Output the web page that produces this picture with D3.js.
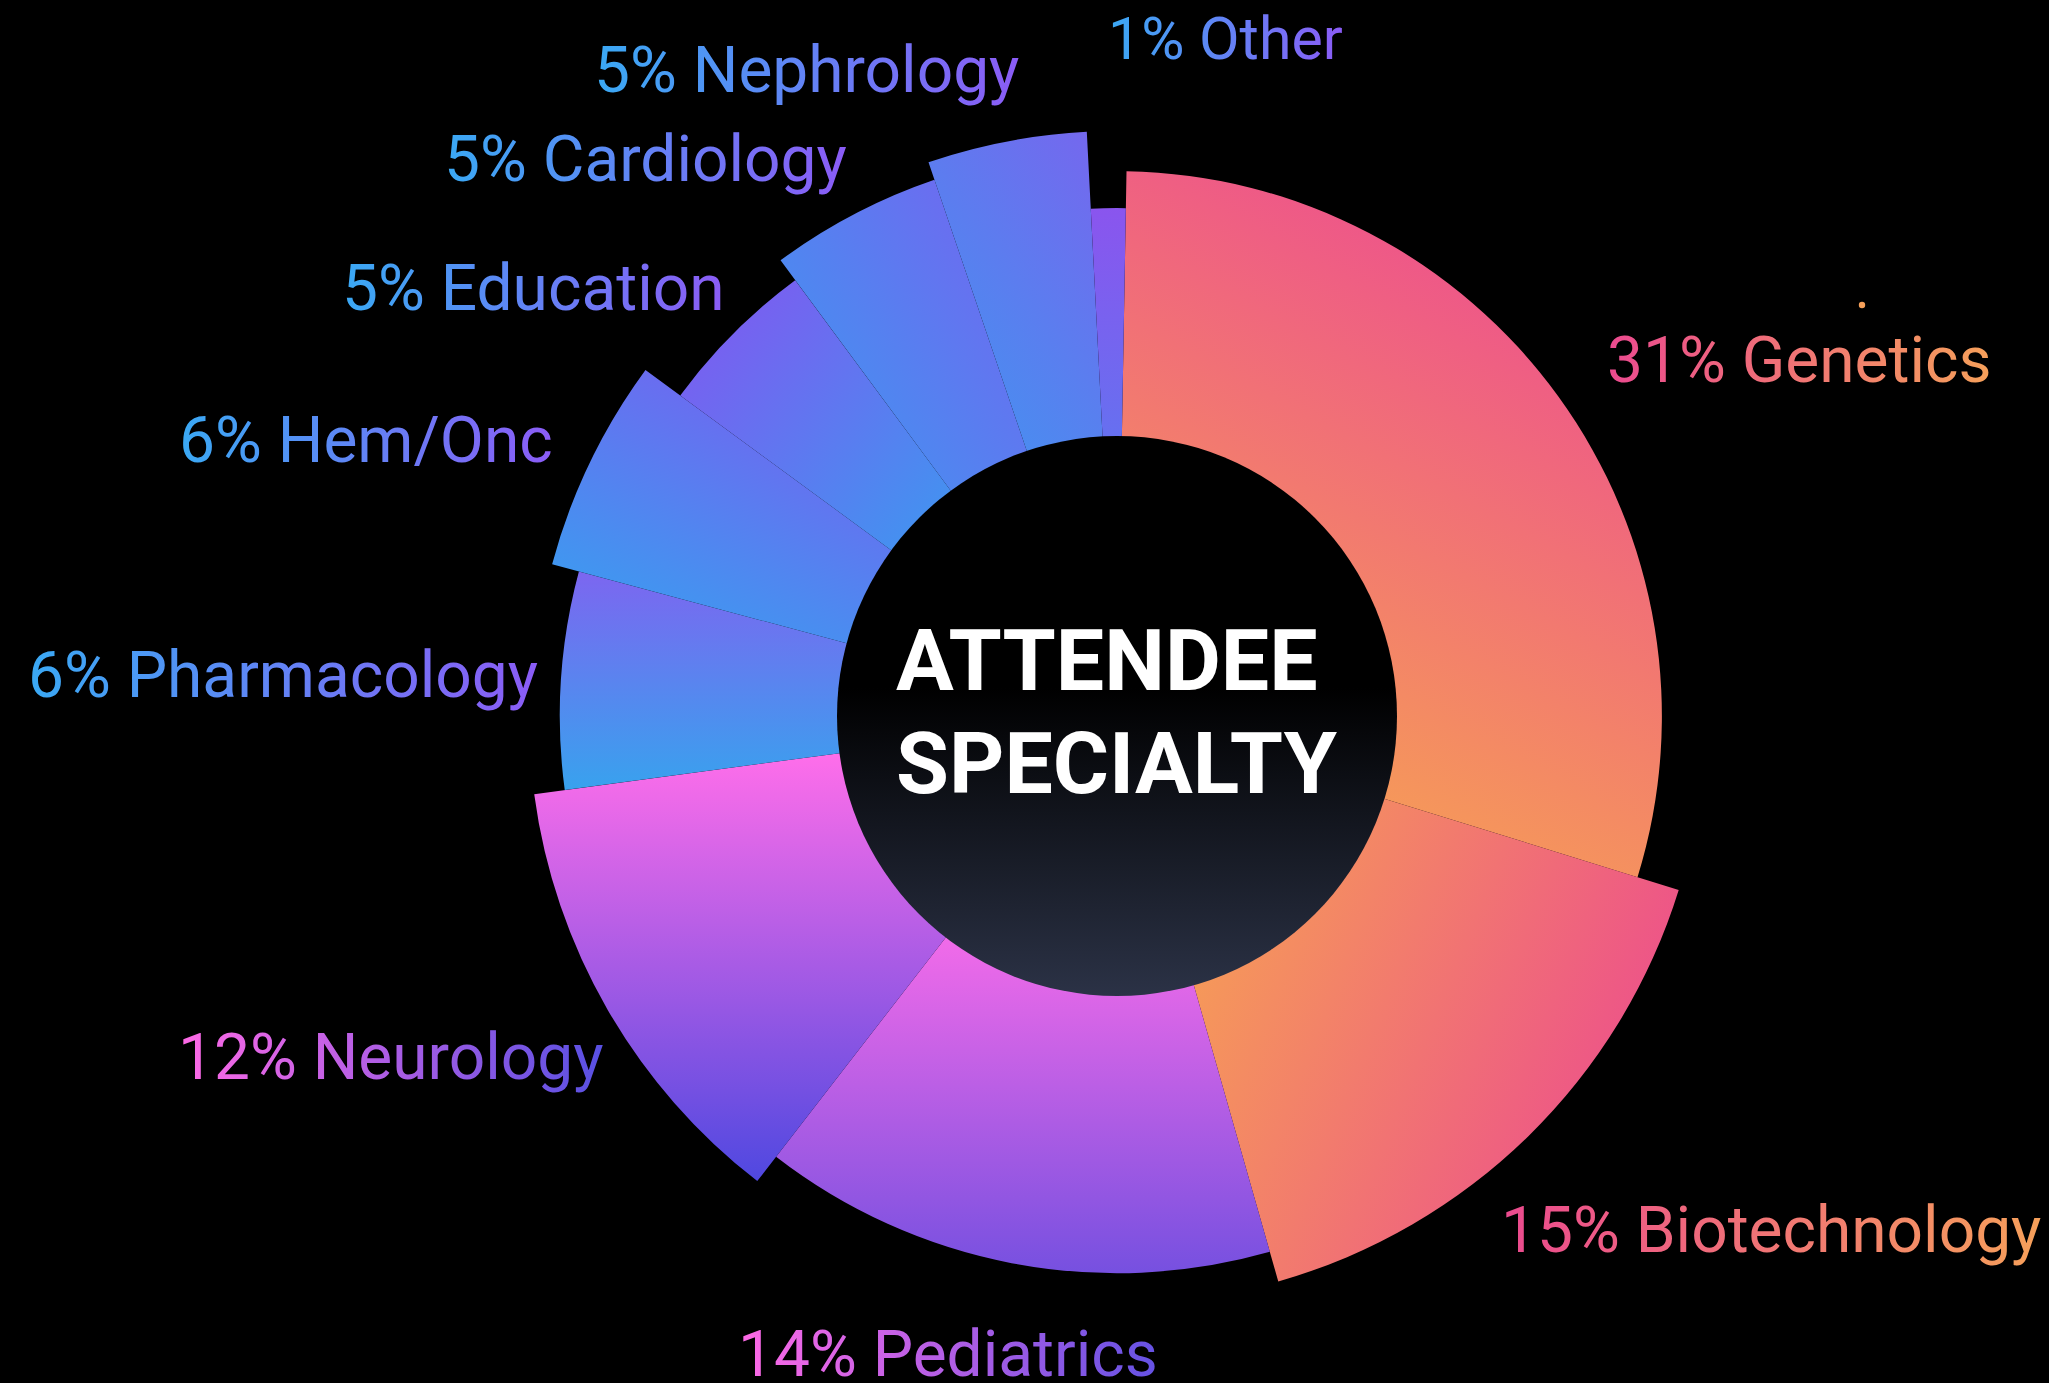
<!DOCTYPE html>
<html>
<head>
<meta charset="utf-8">
<script src="https://cdn.jsdelivr.net/npm/d3@7"></script>
<style>
  html, body { margin: 0; padding: 0; background: #000; }
  svg { display: block; }
  text { font-family: Roboto, "Noto Sans", sans-serif; }
</style>
</head>
<body>
<svg id="chart" width="2049" height="1383"></svg>
<script>
/////DATA/////////////////////////////////////////
var categories = ['Genetics', 'Biotechnology', 'Pediatrics', 'Neurology', 'Pharmacology',
                  'Hem/Onc', 'Education', 'Cardiology', 'Nephrology', 'Other'];
var percents = [31, 15, 14, 12, 6, 6, 5, 5, 5, 1];          // printed in the labels
var shares = [29.5, 15.8, 14.9, 12.4, 6.3, 5.9, 4.8, 4.9, 4.4, 1.1]; // slice angles as drawn
var emphasis = [86, 100, 90, 100, 90, 99, 85, 93, 99, 74];   // relative slice length
var title = ['ATTENDEE', 'SPECIALTY'];

/////LAYOUT + STYLE//////////////////////////////
var W = 2049, H = 1383, cx = 1117, cy = 716;
var innerR = 280, maxR = 588, startDeg = 1;

// label anchor (left of text, baseline) and size
var labelPos = [[1607, 382], [1501, 1252], [738, 1376], [178, 1079], [28, 697],
                [179, 462], [342, 310], [444, 181], [594, 92], [1108, 59]];
var labelSize = [64, 64, 64, 64, 64, 64, 64, 64, 64, 59];

// slice gradients: from, to, x1, y1, x2, y2 (bounding box units)
var sliceGrad = [
    ['#ED4E8F', '#F69C57', 0.7, 0.05, 0.35, 0.9],
    ['#F69C57', '#EC4A8F', 0, 0.25, 1, 0.65],
    ['#F26BE9', '#7650E0', 0, 0, 0, 1],
    ['#FF6EEA', '#4F48E0', 0, 0, 0, 1],
    ['#7C66F0', '#38A2EE', 0, 0, 0, 1],
    ['#7660F0', '#389FF0', 0.75, 0, 0.2, 1],
    ['#7C5CF0', '#4392F0', 0.1, 0.1, 0.9, 0.95],
    ['#7068F0', '#4392F0', 0.9, 0.1, 0.1, 0.8],
    ['#7468EE', '#4392F0', 0.9, 0, 0.2, 1],
    ['#8A55EE', '#6670F0', 0, 0, 0, 1]
];
var blueText = ['#3AA9F4', '#8B5CF6'];
var textGrad = [['#EB4A8F', '#F6A05A'], ['#EB4A8F', '#F6A05A'], ['#FF6AE6', '#6552E4'],
                ['#FF6AE6', '#5850E2'], blueText, blueText, blueText, blueText, blueText, blueText];

/////CHART///////////////////////////////////////
var svg = d3.select('#chart');
svg.append('rect').attr('width', W).attr('height', H).attr('fill', '#000');
var defs = svg.append('defs');

function addGradient(id, c0, c1, x1, y1, x2, y2) {
    var g = defs.append('linearGradient').attr('id', id)
        .attr('x1', x1).attr('y1', y1).attr('x2', x2).attr('y2', y2);
    g.append('stop').attr('offset', 0).attr('stop-color', c0);
    g.append('stop').attr('offset', 1).attr('stop-color', c1);
}

sliceGrad.forEach(function (s, i) { addGradient('sg' + i, s[0], s[1], s[2], s[3], s[4], s[5]); });
textGrad.forEach(function (t, i) { addGradient('tg' + i, t[0], t[1], 0, 0, 1, 0); });

var hub = defs.append('linearGradient').attr('id', 'hub')
    .attr('x1', 0).attr('y1', 0).attr('x2', 0).attr('y2', 1);
hub.append('stop').attr('offset', 0.45).attr('stop-color', '#000');
hub.append('stop').attr('offset', 1).attr('stop-color', '#2B3246');

var rScale = d3.scaleLinear().domain([0, 100]).range([innerR, maxR]);
var a0 = startDeg * Math.PI / 180;
var pie = d3.pie().sort(null)
    .value(function (d, i) { return shares[i]; })
    .startAngle(a0).endAngle(a0 + 2 * Math.PI);
var arc = d3.arc()
    .innerRadius(innerR - 2)
    .outerRadius(function (d) { return rScale(emphasis[d.index]); });

var g = svg.append('g').attr('transform', 'translate(' + cx + ',' + cy + ')');

g.selectAll('path.slice')
    .data(pie(categories))
    .enter().append('path')
    .attr('class', 'slice')
    .attr('d', arc)
    .attr('fill', function (d) { return 'url(#sg' + d.index + ')'; });

g.append('circle').attr('r', innerR).attr('fill', 'url(#hub)');

var t = svg.append('text')
    .attr('font-size', 86).attr('font-weight', 700).attr('fill', '#fff');
t.selectAll('tspan').data(title).enter().append('tspan')
    .attr('x', 896)
    .attr('y', function (d, i) { return 690 + i * 103; })
    .text(function (d) { return d; });

svg.selectAll('text.label')
    .data(categories)
    .enter().append('text')
    .attr('class', 'label')
    .attr('x', function (d, i) { return labelPos[i][0]; })
    .attr('y', function (d, i) { return labelPos[i][1]; })
    .attr('font-size', function (d, i) { return labelSize[i]; })
    .attr('fill', function (d, i) { return 'url(#tg' + i + ')'; })
    .text(function (d, i) { return percents[i] + '% ' + d; });

// stray dot above the Genetics label
svg.append('circle')
    .attr('cx', labelPos[0][0] + 255).attr('cy', labelPos[0][1] - 77)
    .attr('r', 3.2).attr('fill', '#F6A05A');
</script>
</body>
</html>
